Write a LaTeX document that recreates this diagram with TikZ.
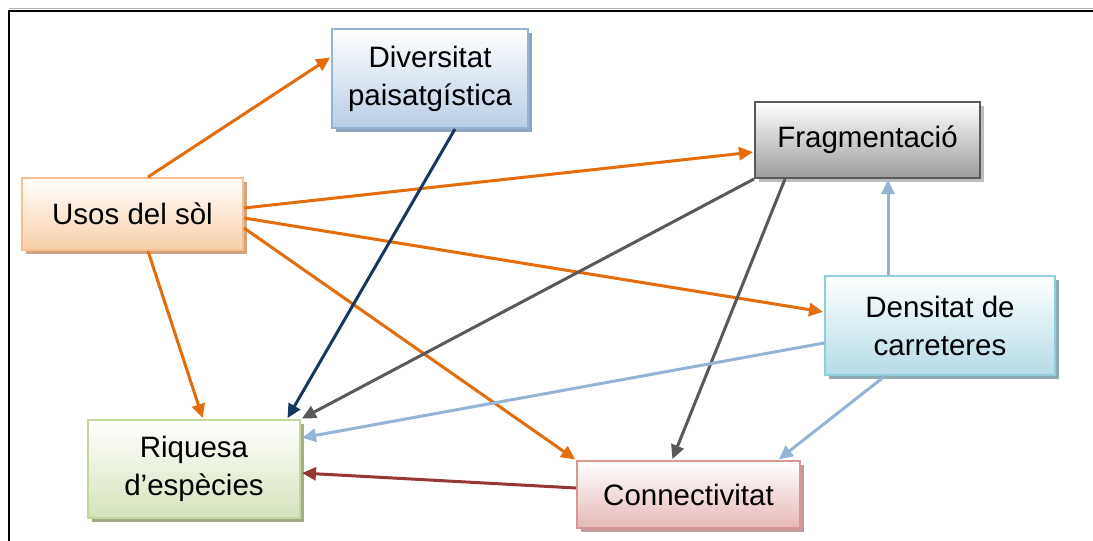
\documentclass[tikz,border=0pt]{standalone}
\usepackage{fontspec}
\setmainfont{Liberation Sans}
\usetikzlibrary{arrows.meta,shadows}
\definecolor{cOr}{HTML}{E46C0A}
\definecolor{cNavy}{HTML}{17375E}
\definecolor{cGray}{HTML}{595959}
\definecolor{cLB}{HTML}{95B3D7}
\definecolor{cRed}{HTML}{953735}
\definecolor{divB}{HTML}{B9CDE5}\definecolor{divS}{HTML}{8FA4BE}
\definecolor{fragB}{HTML}{9C9C9C}\definecolor{fragS}{HTML}{BDBDBD}
\definecolor{usoD}{HTML}{F9BE8F}\definecolor{usoB}{HTML}{F9CFA6}\definecolor{usoS}{HTML}{D4A47F}
\definecolor{denD}{HTML}{92CDDC}\definecolor{denB}{HTML}{B4DCE6}\definecolor{denS}{HTML}{8FAAB3}
\definecolor{riqD}{HTML}{C3D69B}\definecolor{riqB}{HTML}{D5E3BB}\definecolor{riqS}{HTML}{A3AD8C}
\definecolor{conD}{HTML}{D99694}\definecolor{conB}{HTML}{E5B8B7}\definecolor{conS}{HTML}{BF9C9C}
\tikzset{
  box/.style={draw, line width=2pt, align=center, font=\fontsize{29.5}{38}\selectfont, inner sep=0pt},
  bx/.style n args={4}{box, draw=#1, top color=white, bottom color=#2,
     general shadow={shadow xshift=3.5pt, shadow yshift=-3.5pt, fill=#3, opacity=1},
     minimum width=#4},
  arr/.style={line width=3pt, -{Triangle[length=14pt,width=13pt]}, shorten >=1pt}
}
\begin{document}
\begin{tikzpicture}[x=1pt,y=-1pt]
\useasboundingbox (0,0) rectangle (1093,541);
\fill[white] (0,0) rectangle (1093,541);
\draw[gray!60, line width=0.8pt] (9,8.5) -- (1093,8.5);
\draw[black, line width=2pt] (1093,11) -- (9,11) -- (9,541);
% nodes
\node[bx={cLB}{divB}{divS}{196pt}, minimum height=99pt] (div) at (430,78.5) {Diversitat\\paisatgística};
\node[bx={cGray}{fragB}{fragS}{225pt}, minimum height=76pt] (frag) at (867.5,140) {Fragmentació};
\node[bx={usoD}{usoB}{usoS}{221pt}, minimum height=72pt] (usos) at (132.5,214) {Usos del sòl};
\node[bx={denD}{denB}{denS}{230pt}, minimum height=99pt] (dens) at (940,325.5) {Densitat de\\carreteres};
\node[bx={riqD}{riqB}{riqS}{212pt}, minimum height=98pt] (riq) at (194,469) {Riquesa\\d’espècies};
\node[bx={conD}{conB}{conS}{223pt}, minimum height=67pt] (con) at (688.5,494.5) {Connectivitat};
% arrows from Usos
\draw[arr, cOr] ([xshift=15.5pt]usos.north) -- ([yshift=21.5pt]div.west);
\draw[arr, cOr] ([yshift=6pt]usos.east) -- ([yshift=-12pt]frag.west);
\draw[arr, cOr] ([yshift=-4pt]usos.east) -- ([yshift=13.5pt]dens.west);
\draw[arr, cOr] ([yshift=-14pt]usos.east) -- (con.north west);
\draw[arr, cOr] ([xshift=15.5pt]usos.south) -- ([xshift=9pt]riq.north);
% others
\draw[arr, cNavy] ([xshift=25pt]div.south) -- ([xshift=93pt]riq.north);
\draw[arr, cGray] (frag.south west) -- (riq.north east);
\draw[arr, cGray] ([xshift=-82.5pt]frag.south) -- ([xshift=-16.5pt]con.north);
\draw[arr, cLB] ([xshift=-52pt]dens.north) -- ([xshift=20.5pt]frag.south);
\draw[arr, cLB] ([yshift=-17.5pt]dens.west) -- ([yshift=31pt]riq.east);
\draw[arr, cLB] ([xshift=-55pt]dens.south) -- ([xshift=89.5pt]con.north);
\draw[arr, cRed] ([yshift=6.5pt]con.west) -- ([yshift=-4pt]riq.east);
\end{tikzpicture}
\end{document}
